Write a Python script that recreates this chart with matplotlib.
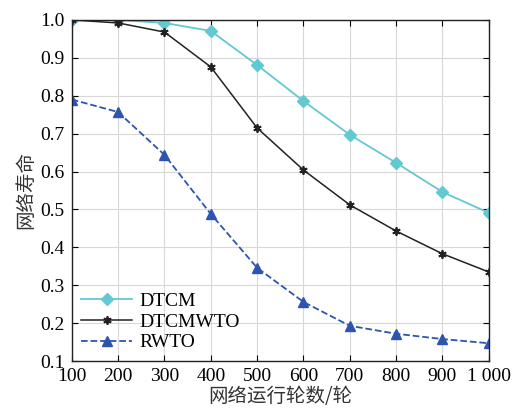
import matplotlib
matplotlib.use("Agg")
import matplotlib.pyplot as plt

rounds = [100, 200, 300, 400, 500, 600, 700, 800, 900, 1000]
xtick_labels = ["100", "200", "300", "400", "500", "600", "700", "800", "900", "1 000"]
dtcm = [1.0, 1.0, 0.992, 0.971, 0.881, 0.786, 0.697, 0.623, 0.546, 0.491]
dtcmwto = [1.0, 0.992, 0.968, 0.876, 0.715, 0.604, 0.512, 0.443, 0.383, 0.335]
rwto = [0.79, 0.757, 0.644, 0.488, 0.346, 0.256, 0.193, 0.172, 0.158, 0.147]

serif = ["Liberation Serif", "DejaVu Serif"]
cjk = ["Noto Sans CJK SC", "DejaVu Sans"]

fig = plt.figure(figsize=(5.2, 4.15), dpi=100)
ax = fig.add_axes([0.138, 0.130, 0.802, 0.822])

ax.plot(rounds, dtcm, "-D", color="#62c8d2", lw=1.3, ms=6, label="DTCM")
ax.plot(rounds, dtcmwto, "-", marker=(6, 2, 0), color="#222222", lw=1.1, ms=6,
        mew=1.3, label="DTCMWTO")
ax.plot(rounds, rwto, "--^", color="#2d55b0", lw=1.3, ms=7, label="RWTO")

ax.set_xlim(100, 1000)
ax.set_ylim(0.1, 1.0)
ax.set_xticks(rounds)
ax.set_xticklabels(xtick_labels, family=serif, fontsize=14)
yt = [0.1 * i for i in range(1, 11)]
ax.set_yticks(yt)
ax.set_yticklabels([f"{v:.1f}" for v in yt], family=serif, fontsize=14)
ax.tick_params(direction="in", top=True, right=True, length=4, width=0.8, pad=5)
ax.grid(True, color="#d8d8d8", lw=0.8)
for s in ax.spines.values():
    s.set_linewidth(1.0)
    s.set_color("#222222")

ax.set_xlabel("网络运行轮数/轮", family=cjk, fontsize=14, color="#333333", labelpad=1)
ax.set_ylabel("网络寿命", family=cjk, fontsize=14, color="#333333", labelpad=3)

ax.legend(loc="lower left", frameon=False, prop={"family": serif, "size": 14},
          handlelength=2.6, borderaxespad=0.1, labelspacing=0.15, handletextpad=0.4)

fig.savefig("out.png", dpi=100)
